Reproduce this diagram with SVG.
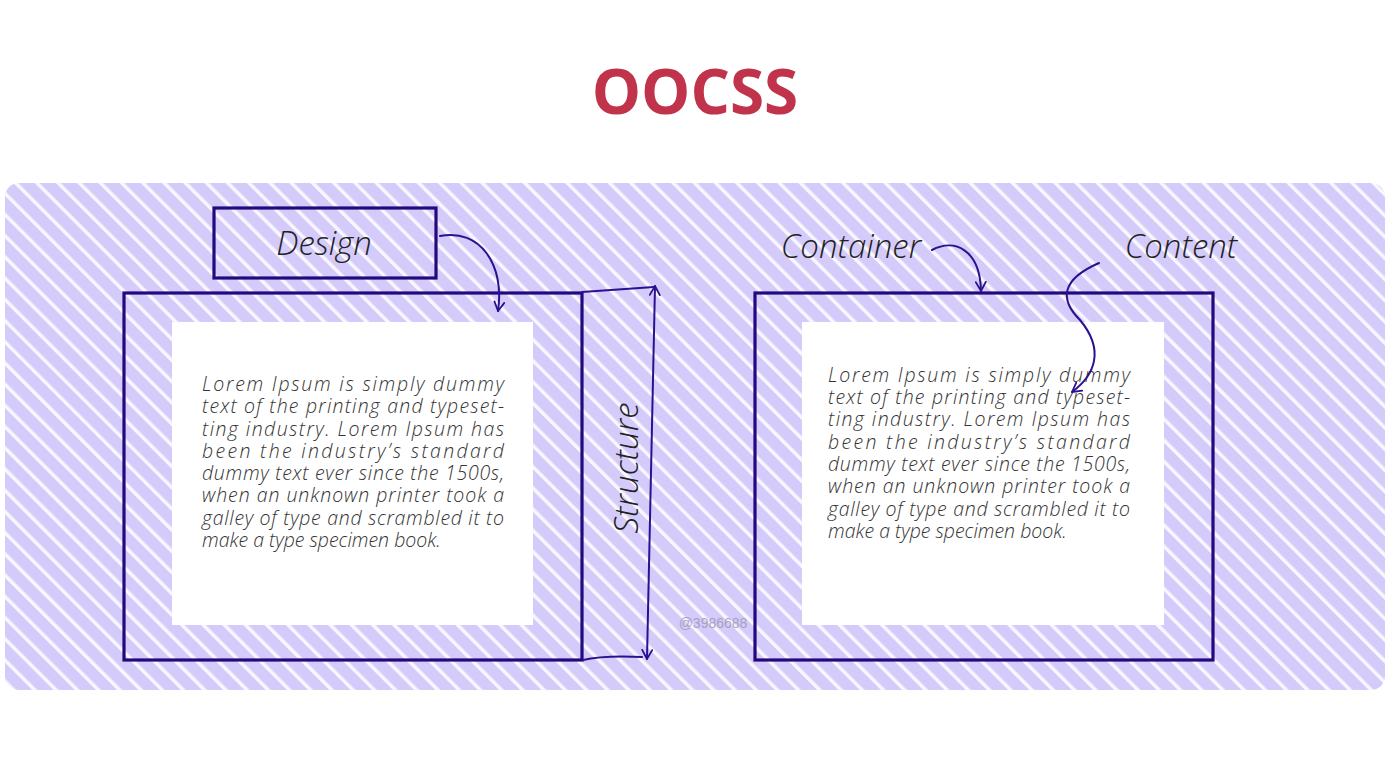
<svg xmlns="http://www.w3.org/2000/svg" width="1392" height="782" viewBox="0 0 1392 782">
<defs>
<pattern id="hatch" width="15" height="15" patternUnits="userSpaceOnUse" patternTransform="rotate(-45)">
<rect width="15" height="15" fill="#d4cbfb"/>
<rect x="0" y="0" width="3.5" height="15" fill="#ffffff" opacity="0.85"/>
</pattern>
<marker id="arr" viewBox="0 0 12 12" refX="10" refY="6" markerWidth="12" markerHeight="12" markerUnits="userSpaceOnUse" orient="auto-start-reverse">
<path d="M1,1 L10,6 L1,11" fill="none" stroke="#2c108f" stroke-width="1.8" stroke-linecap="round" stroke-linejoin="round"/>
</marker>
<style>
.box{fill:none;stroke:#24087e;stroke-width:3.2}
.inner{fill:#ffffff}
.lbl{font-family:"Open Sans","Liberation Sans",sans-serif;font-style:italic;font-weight:300;fill:#222;font-size:33px}
.body{font-family:"Open Sans","Liberation Sans",sans-serif;font-style:italic;font-weight:300;fill:#333;font-size:19.5px}
.con{fill:none;stroke:#2c108f;stroke-width:2;stroke-linecap:round}
</style>
</defs>
<rect x="0" y="0" width="1392" height="782" fill="#ffffff"/>
<text x="695" y="114" text-anchor="middle" font-family="'Open Sans','Liberation Sans',sans-serif" font-weight="700" font-size="62" fill="#c1334b">OOCSS</text>
<rect x="5" y="183" width="1380" height="507" rx="14" fill="url(#hatch)"/>

<g id="design">
<rect class="box" x="214" y="208" width="222" height="70"/>
<text class="lbl" x="324" y="255" text-anchor="middle">Design</text>
</g>

<g id="left-box">
<rect class="box" x="124" y="293" width="458" height="367"/>
<rect class="inner" x="172" y="322" width="361" height="303"/>
<g class="body">
<text x="202" y="391" textLength="302" lengthAdjust="spacing">Lorem Ipsum is simply dummy</text>
<text x="202" y="413" textLength="302" lengthAdjust="spacing">text of the printing and typeset-</text>
<text x="202" y="436" textLength="302" lengthAdjust="spacing">ting industry. Lorem Ipsum has</text>
<text x="202" y="458" textLength="302" lengthAdjust="spacing">been the industry’s standard</text>
<text x="202" y="480" textLength="302" lengthAdjust="spacing">dummy text ever since the 1500s,</text>
<text x="202" y="502" textLength="302" lengthAdjust="spacing">when an unknown printer took a</text>
<text x="202" y="525" textLength="302" lengthAdjust="spacing">galley of type and scrambled it to</text>
<text x="202" y="547">make a type specimen book.</text>
</g>
</g>

<g id="structure">
<text class="lbl" x="0" y="0" text-anchor="middle" transform="translate(638,468) rotate(-90)" font-size="30">Structure</text>
</g>

<g id="right-box">
<rect class="box" x="755" y="293" width="458" height="367"/>
<rect class="inner" x="802" y="322" width="362" height="303"/>
<g class="body">
<text x="828" y="382" textLength="302" lengthAdjust="spacing">Lorem Ipsum is simply dummy</text>
<text x="828" y="404" textLength="302" lengthAdjust="spacing">text of the printing and typeset-</text>
<text x="828" y="426" textLength="302" lengthAdjust="spacing">ting industry. Lorem Ipsum has</text>
<text x="828" y="449" textLength="302" lengthAdjust="spacing">been the industry’s standard</text>
<text x="828" y="471" textLength="302" lengthAdjust="spacing">dummy text ever since the 1500s,</text>
<text x="828" y="493" textLength="302" lengthAdjust="spacing">when an unknown printer took a</text>
<text x="828" y="516" textLength="302" lengthAdjust="spacing">galley of type and scrambled it to</text>
<text x="828" y="538">make a type specimen book.</text>
</g>
</g>

<g id="container-label">
<text class="lbl" x="851" y="258" text-anchor="middle">Container</text>
</g>
<g id="content-label">
<text class="lbl" x="1181" y="258" text-anchor="middle">Content</text>
</g>

<text x="713" y="628" text-anchor="middle" font-family="'Liberation Sans',sans-serif" font-size="14" fill="#9a96b0" opacity="0.8">@3986688</text>

<g id="connectors">
<path class="con" d="M440,236 C480,228 505,265 498,311" marker-end="url(#arr)"/>
<path class="con" d="M582,292 L654,287"/>
<path class="con" d="M583,660 C600,656 620,656 642,657"/>
<path class="con" d="M647,659 L655,286" marker-start="url(#arr)" marker-end="url(#arr)"/>
<path class="con" d="M932,250 C955,238 980,250 981,291" marker-end="url(#arr)"/>
<path class="con" d="M1099,263 C1060,280 1060,300 1080,320 C1105,350 1095,375 1072,392" marker-end="url(#arr)"/>
</g>
</svg>
